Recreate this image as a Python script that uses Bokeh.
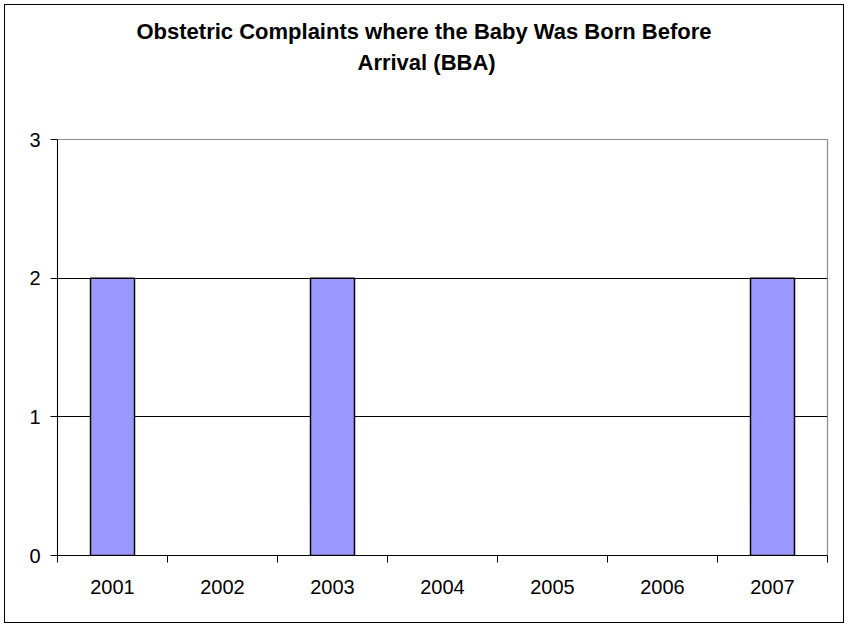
from bokeh.plotting import figure
from bokeh.models import Range1d, FixedTicker, Title, ColumnDataSource
from bokeh.embed import file_html
from bokeh.resources import INLINE

# ---- data ----
years = ["2001", "2002", "2003", "2004", "2005", "2006", "2007"]
counts = [2, 0, 2, 0, 0, 0, 2]
y_ticks = [0, 1, 2, 3]
title_lines = ["Obstetric Complaints where the Baby Was Born Before", "Arrival (BBA)"]

FONT = "Liberation Sans"

centers = [i + 0.5 for i in range(len(years))]
src = ColumnDataSource(dict(
    x=[c for c, v in zip(centers, counts) if v > 0],
    top=[v for v in counts if v > 0],
))

p = figure(width=848, height=627, output_backend="svg", toolbar_location=None,
           x_range=Range1d(0, len(years)), y_range=Range1d(y_ticks[0], y_ticks[-1]),
           min_border_left=57, min_border_right=21, min_border_top=139, min_border_bottom=72)
p.background_fill_color = "white"
p.border_fill_color = None
p.outline_line_color = "#8c8c8c"
p.outline_line_width = 1.2

# gridlines
p.xgrid.visible = False
p.ygrid.ticker = FixedTicker(ticks=[t for t in y_ticks if y_ticks[0] < t < y_ticks[-1]])
p.ygrid.grid_line_color = "black"
p.ygrid.grid_line_width = 1

# bars
p.vbar(x="x", top="top", bottom=0, width=0.4, source=src,
       fill_color="#9999FF", line_color="black", line_width=1.5)

# x axis: labels at centres, ticks at category boundaries
xa = p.xaxis[0]
xa.ticker = FixedTicker(ticks=centers, minor_ticks=list(range(len(years) + 1)))
xa.major_label_overrides = {c: y for c, y in zip(centers, years)}
xa.major_tick_in = 0
xa.major_tick_out = 0
xa.minor_tick_in = 0
xa.minor_tick_out = 7
xa.minor_tick_line_color = "black"
xa.axis_line_color = "black"
xa.major_label_text_font = FONT
xa.major_label_text_font_size = "20px"
xa.major_label_text_color = "black"
xa.major_label_standoff = 17

ya = p.yaxis[0]
ya.ticker = FixedTicker(ticks=y_ticks)
ya.major_tick_in = 0
ya.major_tick_out = 7
ya.major_tick_line_color = "black"
ya.minor_tick_line_color = None
ya.axis_line_color = "black"
ya.major_label_text_font = FONT
ya.major_label_text_font_size = "20px"
ya.major_label_text_color = "black"
ya.major_label_standoff = 10

# blank spacer between the frame and the title block
p.add_layout(Title(text=" ", text_font_size="1px", text_color="white", standoff=60), "above")

# title: two lines (nearest the frame added first)
for txt, off in zip(reversed(title_lines), [300, 79]):
    p.add_layout(Title(text=txt, align="left", offset=off, standoff=4,
                       text_font=FONT, text_font_size="22px", text_font_style="bold",
                       text_color="black"), "above")

# outer chart border (drawn by the plot's host element, shows through the transparent border fill)
p.styles = {"background-color": "white",
            "box-shadow": "inset 0 0 0 4px white, inset 0 0 0 5px black"}

open("out.html", "w").write(file_html(p, INLINE))
